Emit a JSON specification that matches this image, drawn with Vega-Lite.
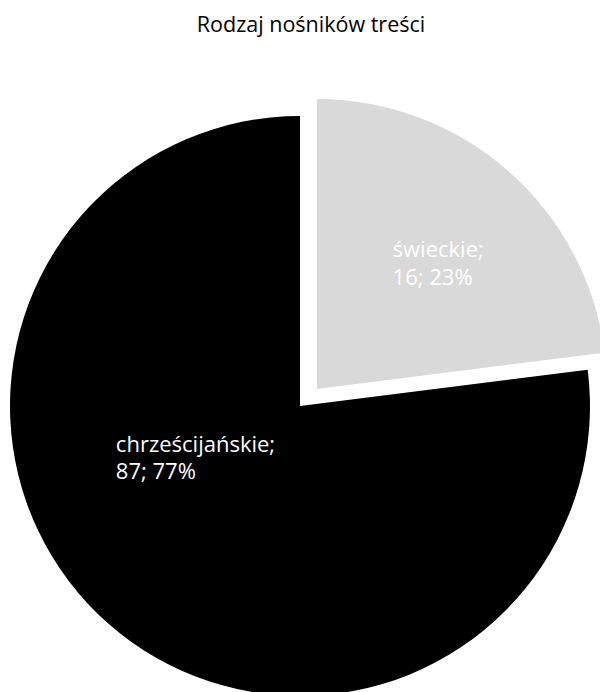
{
  "$schema": "https://vega.github.io/schema/vega-lite/v6.json",
  "width": 600,
  "height": 572,
  "autosize": {"type": "none"},
  "padding": {"top": 120, "left": 0, "right": 0, "bottom": 0},
  "background": "white",
  "title": {
    "text": "Rodzaj nośników treści",
    "font": "Open Sans",
    "fontSize": 21.5,
    "fontWeight": "normal",
    "color": "#000000",
    "anchor": "middle",
    "frame": "group",
    "baseline": "alphabetic",
    "offset": 46,
    "dx": 11
  },
  "data": {
    "values": [
      {"category": "świeckie", "count": 16, "percent": 23, "label": "świeckie;\n16; 23%"},
      {"category": "chrześcijańskie", "count": 87, "percent": 77, "label": "chrześcijańskie;\n87; 77%"}
    ]
  },
  "encoding": {
    "theta": {"field": "percent", "type": "quantitative", "stack": true},
    "order": {"field": "category", "sort": "descending"},
    "color": {
      "field": "category",
      "type": "nominal",
      "scale": {"domain": ["świeckie", "chrześcijańskie"], "range": ["#d9d9d9", "#000000"]},
      "legend": null
    }
  },
  "layer": [
    {
      "mark": {"type": "arc", "radius": 290},
      "encoding": {
        "opacity": {"condition": {"test": "datum.category === 'świeckie'", "value": 0}, "value": 1}
      }
    },
    {
      "mark": {"type": "arc", "radius": 290, "xOffset": 17, "yOffset": -17},
      "encoding": {
        "opacity": {"condition": {"test": "datum.category === 'świeckie'", "value": 1}, "value": 0}
      }
    },
    {
      "mark": {"type": "text", "radius": 100, "dx": -118, "dy": -29, "align": "left", "baseline": "alphabetic", "lineBreak": "\n", "lineHeight": 27, "font": "Open Sans", "fontSize": 22},
      "encoding": {
        "text": {"field": "label", "type": "nominal"},
        "color": {"value": "#ffffff"},
        "opacity": {"condition": {"test": "datum.category === 'świeckie'", "value": 0}, "value": 1}
      }
    },
    {
      "mark": {"type": "text", "radius": 140, "dx": 0, "dy": -44, "align": "left", "baseline": "alphabetic", "lineBreak": "\n", "lineHeight": 28, "font": "Open Sans", "fontSize": 22},
      "encoding": {
        "text": {"field": "label", "type": "nominal"},
        "color": {"value": "#ffffff"},
        "opacity": {"condition": {"test": "datum.category === 'świeckie'", "value": 1}, "value": 0}
      }
    }
  ]
}
